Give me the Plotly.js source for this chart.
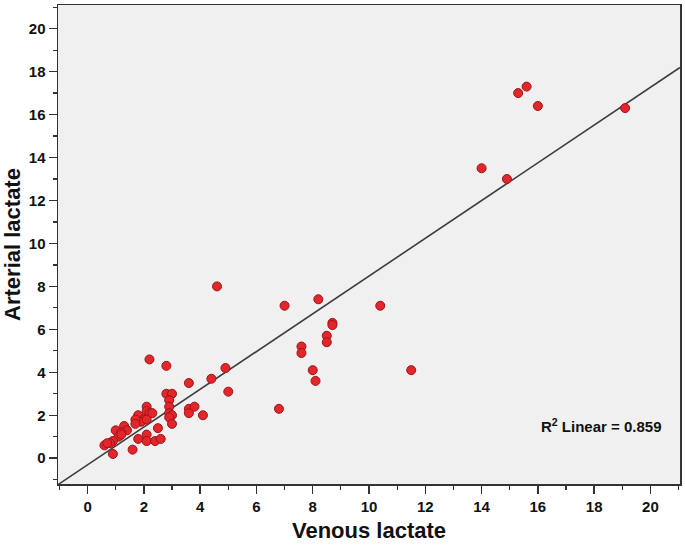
<!DOCTYPE html>
<html>
<head>
<meta charset="utf-8">
<script src="https://cdn.plot.ly/plotly-3.0.1.min.js"></script>
<style>html,body{margin:0;padding:0;background:#fff;}#chart{width:685px;height:546px;}</style>
</head>
<body>
<div id="chart"></div>
<script>
// Venous lactate (x) and arterial lactate (y)
const venous = [15.3, 15.6, 16.0, 19.1, 14.0, 14.9, 4.6, 7.0, 8.2, 10.4,
  8.7, 8.7, 8.5, 8.5, 7.6, 7.6, 8.0, 8.1, 11.5, 4.9,
  4.4, 5.0, 6.8, 4.1, 3.6, 3.6, 3.8, 3.6, 2.2, 2.8,
  2.8, 3.0, 2.9, 2.9, 2.9, 3.0, 2.9, 3.0, 2.5, 2.1,
  2.1, 1.8, 2.4, 2.6, 1.6, 0.9, 2.1, 2.1, 2.2, 2.3,
  1.8, 2.0, 1.9, 1.7, 1.7, 2.1, 1.0, 1.3, 1.4, 1.2,
  1.1, 0.9, 0.8, 0.6, 0.7, 1.2];
const arterial = [17.0, 17.3, 16.4, 16.3, 13.5, 13.0, 8.0, 7.1, 7.4, 7.1,
  6.3, 6.2, 5.7, 5.4, 5.2, 4.9, 4.1, 3.6, 4.1, 4.2,
  3.7, 3.1, 2.3, 2.0, 3.5, 2.3, 2.4, 2.1, 4.6, 4.3,
  3.0, 3.0, 2.7, 2.4, 2.1, 2.0, 1.9, 1.6, 1.4, 1.1,
  0.8, 0.9, 0.8, 0.9, 0.4, 0.2, 2.4, 2.2, 2.1, 2.1,
  2.0, 1.8, 1.7, 1.8, 1.6, 1.8, 1.3, 1.5, 1.3, 1.2,
  1.0, 0.8, 0.7, 0.6, 0.7, 1.1];
const xTicks = [0, 2, 4, 6, 8, 10, 12, 14, 16, 18, 20];
const yTicks = [0, 2, 4, 6, 8, 10, 12, 14, 16, 18, 20];
const rSquaredLabel = 'R<sup>2</sup> Linear = 0.859';

const xRange = [-1.05, 21.05];
const yRange = [-1.2, 21.1];

// least-squares fit from the data
const n = venous.length;
const mx = venous.reduce((a, b) => a + b, 0) / n;
const my = arterial.reduce((a, b) => a + b, 0) / n;
let sxy = 0, sxx = 0;
for (let i = 0; i < n; i++) { sxy += (venous[i] - mx) * (arterial[i] - my); sxx += (venous[i] - mx) ** 2; }
const slope = sxy / sxx, intercept = my - slope * mx;
const fitX = [xRange[0], xRange[1]];
const fitY = fitX.map(v => intercept + slope * v);

const tickFont = {family: '"Liberation Sans Narrow", "Liberation Sans", Arial, sans-serif', size: 15, color: '#111'};
const titleFont = {family: '"Liberation Sans", Arial, sans-serif', size: 22, color: '#111', weight: 'bold'};

const traces = [
  {x: fitX, y: fitY, mode: 'lines', line: {color: '#3c3c3c', width: 1.6}, hoverinfo: 'skip', showlegend: false},
  {x: venous, y: arterial, mode: 'markers', type: 'scatter', showlegend: false,
   marker: {size: 9, color: '#e3262b', line: {color: '#9e1316', width: 1}}}
];

const axisCommon = {
  showgrid: false, zeroline: false, showline: true, linecolor: '#333', linewidth: 1.5,
  mirror: true, ticks: 'outside', ticklen: 8, tickwidth: 1.5, tickcolor: '#333',
  tickfont: Object.assign({}, tickFont, {weight: 'bold'}),
  minor: {dtick: 1, ticks: 'outside', ticklen: 4, tickwidth: 1.2, tickcolor: '#333', showgrid: false}
};

const layout = {
  width: 685, height: 546,
  margin: {l: 58, r: 5, t: 5, b: 62},
  paper_bgcolor: '#ffffff', plot_bgcolor: '#f0f0f0',
  showlegend: false,
  xaxis: Object.assign({}, axisCommon, {
    range: xRange, tickvals: xTicks, ticktext: xTicks.map(String),
    title: {text: 'Venous lactate', font: titleFont, standoff: 9}
  }),
  yaxis: Object.assign({}, axisCommon, {
    range: yRange, tickvals: yTicks, ticktext: yTicks.map(String),
    title: {text: 'Arterial lactate', font: titleFont, standoff: 4}
  }),
  annotations: [{
    xref: 'paper', yref: 'paper', x: 0.974, y: 0.123, xanchor: 'right', yanchor: 'middle',
    text: rSquaredLabel, showarrow: false,
    font: {family: '"Liberation Sans", Arial, sans-serif', size: 15, color: '#111', weight: 'bold'}
  }]
};

Plotly.newPlot('chart', traces, layout, {displayModeBar: false, staticPlot: true});
</script>
</body>
</html>
